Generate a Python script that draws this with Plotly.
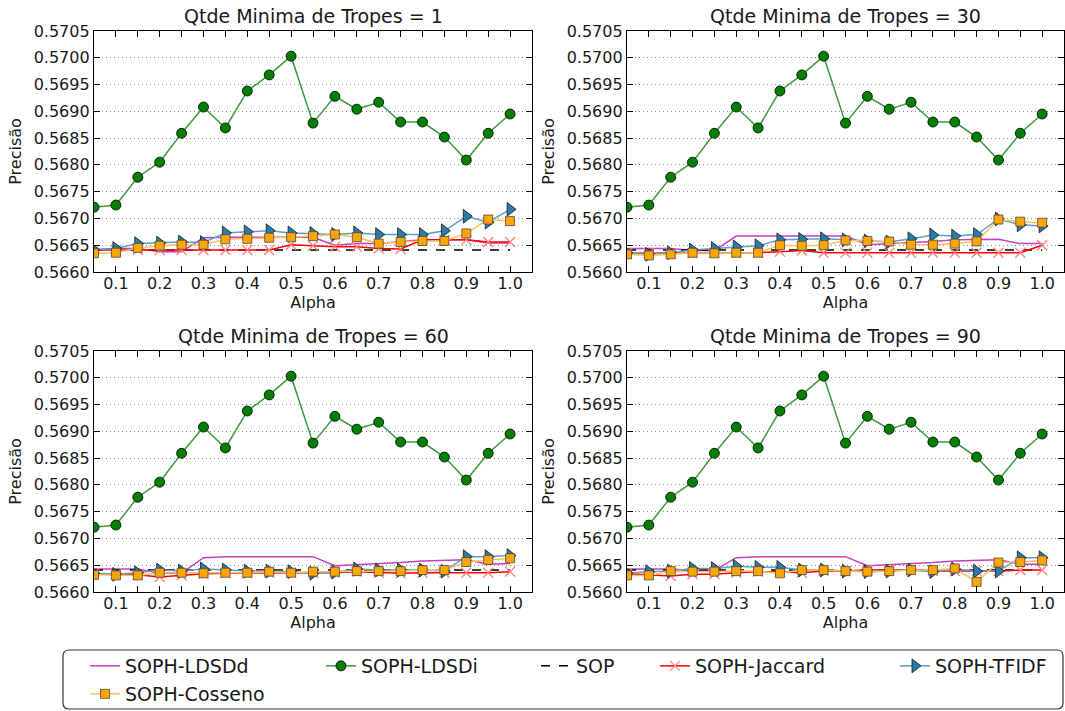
import plotly.graph_objects as go

# Alpha values on the x axis
alpha = [0.05, 0.10, 0.15, 0.20, 0.25, 0.30, 0.35, 0.40, 0.45, 0.50,
         0.55, 0.60, 0.65, 0.70, 0.75, 0.80, 0.85, 0.90, 0.95, 1.00]

panel_titles = ["Qtde Minima de Tropes = 1", "Qtde Minima de Tropes = 30",
                "Qtde Minima de Tropes = 60", "Qtde Minima de Tropes = 90"]

y_ticks = [0.5660, 0.5665, 0.5670, 0.5675, 0.5680, 0.5685, 0.5690, 0.5695, 0.5700, 0.5705]
y_tick_labels = ["0.5660", "0.5665", "0.5670", "0.5675", "0.5680",
                 "0.5685", "0.5690", "0.5695", "0.5700", "0.5705"]
x_ticks = [0.05, 0.10, 0.15, 0.20, 0.25, 0.30, 0.35, 0.40, 0.45, 0.50,
           0.55, 0.60, 0.65, 0.70, 0.75, 0.80, 0.85, 0.90, 0.95, 1.00, 1.05]
x_tick_labels = ["", "0.1", "", "0.2", "", "0.3", "", "0.4", "", "0.5",
                 "", "0.6", "", "0.7", "", "0.8", "", "0.9", "", "1.0", ""]

# SOPH-LDSDi is identical in all four panels
ldsdi = [0.56721, 0.56725, 0.56777, 0.56805, 0.56859, 0.56908, 0.56869, 0.56938, 0.56968, 0.57003,
         0.56878, 0.56928, 0.56904, 0.56917, 0.56880, 0.56880, 0.56852, 0.56809, 0.56859, 0.56895]

# SOP baseline
sop = [0.56641, 0.56641, 0.56641, 0.56641, 0.56641, 0.56641, 0.56641, 0.56641, 0.56641, 0.56641,
       0.56641, 0.56641, 0.56641, 0.56641, 0.56641, 0.56641, 0.56641, 0.56641, 0.56641, 0.56641]

# Tropes = 1
ldsdd_1 = [0.56642, 0.56644, 0.56644, 0.56638, 0.56638, 0.56664, 0.56665, 0.56665, 0.56665, 0.56665,
           0.56665, 0.56650, 0.56653, 0.56653, 0.56656, 0.56660, 0.56660, 0.56660, 0.56654, 0.56654]
jaccard_1 = [0.56641, 0.56641, 0.56641, 0.56641, 0.56641, 0.56641, 0.56641, 0.56641, 0.56641, 0.56651,
             0.56649, 0.56647, 0.56647, 0.56644, 0.56643, 0.56660, 0.56660, 0.56660, 0.56656, 0.56656]
tfidf_1 = [0.56641, 0.56644, 0.56653, 0.56654, 0.56656, 0.56655, 0.56673, 0.56675, 0.56677, 0.56673,
           0.56672, 0.56670, 0.56673, 0.56670, 0.56670, 0.56670, 0.56677, 0.56704, 0.56693, 0.56717]
cosseno_1 = [0.56635, 0.56636, 0.56645, 0.56649, 0.56651, 0.56651, 0.56661, 0.56662, 0.56664, 0.56665,
             0.56667, 0.56670, 0.56665, 0.56653, 0.56656, 0.56658, 0.56658, 0.56672, 0.56698, 0.56695]

# Tropes = 30
ldsdd_30 = [0.56644, 0.56644, 0.56644, 0.56640, 0.56640, 0.56667, 0.56667, 0.56667, 0.56667, 0.56667,
            0.56667, 0.56651, 0.56653, 0.56654, 0.56657, 0.56660, 0.56661, 0.56661, 0.56653, 0.56653]
jaccard_30 = [0.56635, 0.56635, 0.56635, 0.56635, 0.56636, 0.56636, 0.56636, 0.56638, 0.56640, 0.56636,
              0.56636, 0.56636, 0.56636, 0.56636, 0.56636, 0.56636, 0.56636, 0.56636, 0.56636, 0.56650]
tfidf_30 = [0.56636, 0.56633, 0.56636, 0.56641, 0.56644, 0.56647, 0.56649, 0.56660, 0.56661, 0.56662,
            0.56660, 0.56658, 0.56656, 0.56662, 0.56669, 0.56667, 0.56670, 0.56699, 0.56688, 0.56686]
cosseno_30 = [0.56633, 0.56631, 0.56633, 0.56636, 0.56635, 0.56636, 0.56636, 0.56650, 0.56649, 0.56650,
              0.56659, 0.56658, 0.56657, 0.56651, 0.56651, 0.56653, 0.56657, 0.56698, 0.56694, 0.56692]

# Tropes = 60
ldsdd_60 = [0.56643, 0.56643, 0.56643, 0.56635, 0.56635, 0.56664, 0.56666, 0.56666, 0.56666, 0.56666,
            0.56666, 0.56649, 0.56651, 0.56652, 0.56655, 0.56658, 0.56659, 0.56660, 0.56652, 0.56653]
jaccard_60 = [0.56634, 0.56633, 0.56632, 0.56628, 0.56631, 0.56634, 0.56635, 0.56635, 0.56636, 0.56636,
              0.56636, 0.56636, 0.56638, 0.56636, 0.56635, 0.56636, 0.56636, 0.56636, 0.56636, 0.56638]
tfidf_60 = [0.56635, 0.56633, 0.56636, 0.56641, 0.56639, 0.56643, 0.56641, 0.56639, 0.56639, 0.56638,
            0.56635, 0.56637, 0.56643, 0.56641, 0.56641, 0.56641, 0.56639, 0.56666, 0.56666, 0.56668]
cosseno_60 = [0.56632, 0.56631, 0.56631, 0.56636, 0.56636, 0.56635, 0.56636, 0.56636, 0.56638, 0.56636,
              0.56638, 0.56638, 0.56639, 0.56639, 0.56639, 0.56641, 0.56641, 0.56656, 0.56660, 0.56663]

# Tropes = 90
ldsdd_90 = [0.56643, 0.56643, 0.56643, 0.56640, 0.56640, 0.56664, 0.56666, 0.56666, 0.56666, 0.56666,
            0.56666, 0.56649, 0.56651, 0.56652, 0.56655, 0.56658, 0.56659, 0.56660, 0.56652, 0.56652]
jaccard_90 = [0.56634, 0.56632, 0.56630, 0.56633, 0.56633, 0.56636, 0.56638, 0.56638, 0.56636, 0.56639,
              0.56639, 0.56641, 0.56641, 0.56641, 0.56639, 0.56639, 0.56639, 0.56639, 0.56641, 0.56641]
tfidf_90 = [0.56635, 0.56638, 0.56639, 0.56644, 0.56644, 0.56648, 0.56646, 0.56646, 0.56641, 0.56641,
            0.56639, 0.56638, 0.56639, 0.56641, 0.56638, 0.56643, 0.56639, 0.56639, 0.56664, 0.56664]
cosseno_90 = [0.56631, 0.56631, 0.56639, 0.56638, 0.56638, 0.56639, 0.56639, 0.56635, 0.56641, 0.56641,
              0.56639, 0.56638, 0.56639, 0.56641, 0.56641, 0.56644, 0.56619, 0.56655, 0.56656, 0.56659]

panels = [
    (ldsdd_1, jaccard_1, tfidf_1, cosseno_1),
    (ldsdd_30, jaccard_30, tfidf_30, cosseno_30),
    (ldsdd_60, jaccard_60, tfidf_60, cosseno_60),
    (ldsdd_90, jaccard_90, tfidf_90, cosseno_90),
]

FONT = "DejaVu Sans"
W, H = 1065, 711

# axes boxes in pixels: (left, right, top, bottom)
boxes = [(94, 532, 31, 272), (627, 1064, 31, 272),
         (94, 532, 351, 592), (627, 1064, 351, 592)]

fig = go.Figure()

series_style = [
    dict(name="SOPH-LDSDd", mode="lines", line=dict(color="#c43fc4", width=1.5)),
    dict(name="SOPH-LDSDi", mode="lines+markers", line=dict(color="#3a9a3a", width=1.5),
         marker=dict(symbol="circle", size=10, color="#007f00", line=dict(color="#000000", width=0.8))),
    dict(name="SOP", mode="lines", line=dict(color="#000000", width=1.5, dash="dash")),
    dict(name="SOPH-Jaccard", mode="lines+markers", line=dict(color="#ff0000", width=1.5),
         marker=dict(symbol="x-thin", size=10, color="#ff7f7f", line=dict(color="#ff7f7f", width=1.3))),
    dict(name="SOPH-TFIDF", mode="lines+markers", line=dict(color="#5c9fc9", width=1.5),
         marker=dict(symbol="triangle-right", size=12, color="#2b7ba8", line=dict(color="#1a1a1a", width=0.8))),
    dict(name="SOPH-Cosseno", mode="lines+markers", line=dict(color="#ffc25a", width=1.5),
         marker=dict(symbol="square", size=9, color="#ffa500", line=dict(color="#4a4a4a", width=0.8))),
]

legend_names = ["legend", "legend2", "legend3", "legend4", "legend5", "legend6"]

for i, (ldsdd, jac, tfidf, cos) in enumerate(panels):
    xa = "x" if i == 0 else f"x{i + 1}"
    ya = "y" if i == 0 else f"y{i + 1}"
    values = [ldsdd, ldsdi, sop, jac, tfidf, cos]
    for k, (style, vals) in enumerate(zip(series_style, values)):
        fig.add_trace(go.Scatter(x=alpha, y=vals, xaxis=xa, yaxis=ya,
                                 showlegend=(i == 0), legend=legend_names[k],
                                 **style))

axis_common = dict(showline=True, linecolor="#000000", linewidth=1.3, mirror="ticks",
                   ticks="inside", ticklen=6, tickwidth=1, tickcolor="#000000",
                   tickfont=dict(family=FONT, size=16, color="#1a1a1a"), zeroline=False,
                   automargin=False)

layout = dict(width=W, height=H, margin=dict(l=0, r=0, t=0, b=0, autoexpand=False),
              paper_bgcolor="white", plot_bgcolor="white",
              font=dict(family=FONT, color="#1a1a1a"))

annotations = []
for i, (l, r, t, b) in enumerate(boxes):
    sx = "" if i == 0 else str(i + 1)
    layout[f"xaxis{sx}"] = dict(domain=[l / W, r / W], anchor=f"y{sx}", range=[0.05, 1.05],
                                tickvals=x_ticks, ticktext=x_tick_labels, showgrid=False,
                                ticklabelstandoff=-3,
                                title=dict(text="Alpha", font=dict(family=FONT, size=16), standoff=1),
                                **axis_common)
    layout[f"yaxis{sx}"] = dict(domain=[1 - b / H, 1 - t / H], anchor=f"x{sx}", range=[0.5660, 0.5705],
                                tickvals=y_ticks, ticktext=y_tick_labels, showgrid=True,
                                gridcolor="#8a8a8a", griddash="1px,3px", gridwidth=1,
                                title=dict(text="Precisão", font=dict(family=FONT, size=16), standoff=8),
                                **axis_common)
    annotations.append(dict(text=panel_titles[i], x=(l + r) / 2 / W, y=1 - t / H, xref="paper",
                            yref="paper", xanchor="center", yanchor="bottom", yshift=2,
                            showarrow=False, font=dict(family=FONT, size=19, color="#1a1a1a")))

# one legend per entry, placed in the shared legend box
legend_text_x = [127, 363, 578, 697, 937, 127]
legend_row_y = [666, 666, 666, 666, 666, 694]
for name, tx, ty in zip(legend_names, legend_text_x, legend_row_y):
    layout[name] = dict(x=(tx - 42) / W, y=1 - ty / H, xanchor="left", yanchor="middle",
                        bgcolor="rgba(0,0,0,0)", borderwidth=0,
                        font=dict(family=FONT, size=19, color="#1a1a1a"))

# rounded frame around the legend entries
x0, x1, y0, y1, rad = 63 / W, 1063 / W, 1 - 709 / H, 1 - 650 / H, 6
rx, ry = rad / W, rad / H
frame = (f"M {x0 + rx},{y1} L {x1 - rx},{y1} Q {x1},{y1} {x1},{y1 - ry} "
         f"L {x1},{y0 + ry} Q {x1},{y0} {x1 - rx},{y0} L {x0 + rx},{y0} "
         f"Q {x0},{y0} {x0},{y0 + ry} L {x0},{y1 - ry} Q {x0},{y1} {x0 + rx},{y1} Z")

layout["annotations"] = annotations
layout["shapes"] = [dict(type="path", xref="paper", yref="paper", path=frame,
                         line=dict(color="#333333", width=1.2), fillcolor="rgba(0,0,0,0)",
                         layer="below")]

fig.update_layout(**layout)
fig.write_html("out.html")
